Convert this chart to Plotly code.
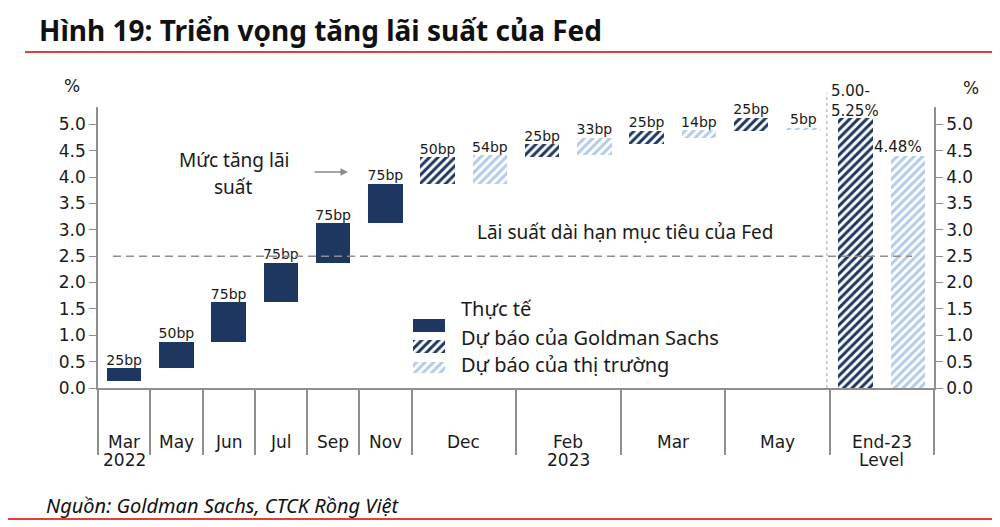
import plotly.graph_objects as go

# ---------------- data ----------------
actual_months = ["Mar", "May", "Jun", "Jul", "Sep", "Nov"]
actual_hike_bp = [25, 50, 75, 75, 75, 75]
actual_base = [0.125, 0.375, 0.875, 1.625, 2.375, 3.125]

fcst_months = ["Dec", "Feb", "Mar", "May"]
gs_hike_bp = [50, 25, 25, 25]
gs_base = [3.875, 4.375, 4.625, 4.875]
mkt_hike_bp = [54, 33, 14, 5]
mkt_base = [3.875, 4.415, 4.745, 4.885]

end23_gs_level = 5.125
end23_gs_label = "5.00-<br>5.25%"
end23_mkt_level = 4.40
end23_mkt_label = "4.48%"

fed_longrun = 2.5

cat_labels = ["Mar", "May", "Jun", "Jul", "Sep", "Nov", "Dec", "Feb", "Mar", "May", "End-23"]
cat_sublabels = ["2022", "", "", "", "", "", "", "2023", "", "", "Level"]
cat_slots = [1, 1, 1, 1, 1, 1, 2, 2, 2, 2, 2]

y_ticks = [0.0, 0.5, 1.0, 1.5, 2.0, 2.5, 3.0, 3.5, 4.0, 4.5, 5.0]

# ---------------- layout helpers ----------------
OFF = 8  # page body margin
W, H = 1000 - OFF, 527 - OFF
ML = 98 - OFF
MT = 107 - OFF
MB = H - (388 - OFF)
MR = W - (934 - OFF)
PW, PH = W - ML - MR, H - MT - MB


def px(xp):
    return (xp - OFF - ML) / PW


def py(yp):
    return (H - MB - (yp - OFF)) / PH


NAVY = "#1e3761"
LIGHT = "#b3cbe8"
GRAY = "#8f8f8f"
RED = "#e2403b"
TXT = "#1a1a1a"

# slot geometry
edges = [0]
for w in cat_slots:
    edges.append(edges[-1] + w)
centers = [(edges[i] + edges[i + 1]) / 2 for i in range(len(cat_slots))]
XU = PW / edges[-1]

n_act = len(actual_months)
act_x = centers[:n_act]
gs_x = [edges[n_act + i] + 0.5 for i in range(len(fcst_months))] + [edges[-2] + 0.5]
mk_x = [edges[n_act + i] + 1.5 for i in range(len(fcst_months))] + [edges[-2] + 1.5]

act_h = [b / 100 for b in actual_hike_bp]
gs_h = [b / 100 for b in gs_hike_bp] + [end23_gs_level]
gs_b = gs_base + [0]
mk_h = [b / 100 for b in mkt_hike_bp] + [end23_mkt_level]
mk_b = mkt_base + [0]

GS_PAT = dict(shape="/", fgcolor=NAVY, bgcolor="white", size=6, solidity=0.5,
              fillmode="replace", fgopacity=1)
MK_PAT = dict(shape="/", fgcolor=LIGHT, bgcolor="white", size=6, solidity=0.5,
              fillmode="replace", fgopacity=1)

BW = 0.66
fig = go.Figure()

fig.add_trace(go.Bar(x=act_x, y=act_h, base=actual_base, width=BW,
                     marker=dict(color=NAVY, line=dict(width=0)),
                     showlegend=False, hoverinfo="skip"))
fig.add_trace(go.Bar(x=gs_x, y=gs_h, base=gs_b, width=BW,
                     marker=dict(color="white", line=dict(width=0), pattern=GS_PAT),
                     showlegend=False, hoverinfo="skip"))
fig.add_trace(go.Bar(x=mk_x, y=mk_h, base=mk_b, width=BW,
                     marker=dict(color="white", line=dict(width=0), pattern=MK_PAT),
                     showlegend=False, hoverinfo="skip"))

# bp labels
lab_x = act_x + gs_x[:-1] + mk_x[:-1]
lab_y = ([b + h for b, h in zip(actual_base, act_h)]
         + [b + h for b, h in zip(gs_base, gs_h[:-1])]
         + [b + h for b, h in zip(mkt_base, mk_h[:-1])])
lab_t = [f"{v}bp" for v in actual_hike_bp + gs_hike_bp + mkt_hike_bp]
fig.add_trace(go.Scatter(x=lab_x, y=lab_y, text=lab_t, mode="text",
                         textposition="top center", cliponaxis=False,
                         textfont=dict(family="DejaVu Sans", size=14, color=TXT),
                         showlegend=False, hoverinfo="skip"))

# right axis dummy trace
fig.add_trace(go.Scatter(x=[None], y=[None], yaxis="y2", showlegend=False, hoverinfo="skip"))

# legend swatches on an overlay axis
leg_names = ["Thực tế", "Dự báo của Goldman Sachs", "Dự báo của thị trường"]
fig.add_trace(go.Bar(x=[1], y=[3], orientation="h", width=0.62, xaxis="x3", yaxis="y3",
                     marker=dict(color=NAVY, line=dict(width=0)), showlegend=False, hoverinfo="skip"))
fig.add_trace(go.Bar(x=[1], y=[2], orientation="h", width=0.62, xaxis="x3", yaxis="y3",
                     marker=dict(color="white", line=dict(width=0), pattern=GS_PAT),
                     showlegend=False, hoverinfo="skip"))
fig.add_trace(go.Bar(x=[1], y=[1], orientation="h", width=0.55, xaxis="x3", yaxis="y3",
                     marker=dict(color="white", line=dict(width=0), pattern=MK_PAT),
                     showlegend=False, hoverinfo="skip"))

tick_font = dict(family="DejaVu Sans", size=17, color=TXT)
yr = [0, PH / 52.75]

fig.update_layout(
    width=W, height=H,
    margin=dict(l=ML, r=MR, t=MT, b=MB, autoexpand=False),
    paper_bgcolor="white", plot_bgcolor="white",
    barmode="overlay", bargap=0,
    xaxis=dict(range=[0, edges[-1]], tickmode="array", tickvals=edges,
               showticklabels=False, ticks="outside", ticklen=65, tickwidth=1.5,
               tickcolor=GRAY, showline=True, linecolor=GRAY, linewidth=1.5,
               showgrid=False, zeroline=False, fixedrange=True),
    yaxis=dict(range=yr, tickmode="array", tickvals=y_ticks,
               ticktext=[f"{v:.1f}" for v in y_ticks], ticks="outside", ticklen=7,
               tickwidth=1.2, tickcolor=GRAY, showline=True, linecolor=GRAY, linewidth=1.5,
               showgrid=False, zeroline=False, tickfont=tick_font),
    yaxis2=dict(range=yr, overlaying="y", side="right", tickmode="array", tickvals=y_ticks,
                ticktext=[f"{v:.1f}" for v in y_ticks], ticks="outside", ticklen=7,
                tickwidth=1.2, tickcolor=GRAY, showline=True, linecolor=GRAY, linewidth=1.5,
                showgrid=False, zeroline=False, tickfont=tick_font),
    xaxis3=dict(domain=[px(413), px(445)], range=[0, 1], visible=False, anchor="y3"),
    yaxis3=dict(domain=[py(378), py(315)], range=[0.5, 3.5], visible=False, anchor="x3"),
    showlegend=False,
)

shapes = [
    # fed long-run dashed line
    dict(type="line", xref="x", yref="y", x0=(113 - 98) / XU,
         x1=(912 - 98) / XU, y0=fed_longrun, y1=fed_longrun,
         line=dict(color=GRAY, width=1.5, dash="8px,5px")),
    # vertical dotted separator
    dict(type="line", xref="x", yref="paper", x0=edges[-2] - 0.05, x1=edges[-2] - 0.05,
         y0=0, y1=py(93), line=dict(color="#a0a0a0", width=1, dash="dot")),
    # title underline
    dict(type="line", xref="paper", yref="paper", x0=px(25), x1=px(1000), y0=py(52), y1=py(52),
         line=dict(color=RED, width=2)),
    # bottom line
    dict(type="line", xref="paper", yref="paper", x0=px(8), x1=px(1000), y0=py(519), y1=py(519),
         line=dict(color=RED, width=2)),
]
fig.update_layout(shapes=shapes)

ann = []
# title
ann.append(dict(text="<b>Hình 19: Triển vọng tăng lãi suất của Fed</b>", xref="paper", yref="paper",
                x=px(37), y=py(30), xanchor="left", yanchor="middle", showarrow=False,
                font=dict(family="Noto Sans", size=28, color="#111111")))
# source
ann.append(dict(text="<i>Nguồn: Goldman Sachs, CTCK Rồng Việt</i>", xref="paper", yref="paper",
                x=px(44), y=py(505), xanchor="left", yanchor="middle", showarrow=False,
                font=dict(family="Noto Sans", size=20, color="#111111")))
# % labels
ann.append(dict(text="%", xref="paper", yref="paper", x=px(72), y=py(86), showarrow=False,
                xanchor="center", yanchor="middle", font=tick_font))
ann.append(dict(text="%", xref="paper", yref="paper", x=px(971), y=py(88), showarrow=False,
                xanchor="center", yanchor="middle", font=tick_font))
# category labels
for c, lab, sub in zip(centers, cat_labels, cat_sublabels):
    ann.append(dict(text=lab, xref="x", yref="paper", x=c, y=py(441.5), showarrow=False,
                    xanchor="center", yanchor="middle", font=tick_font))
    if sub:
        ann.append(dict(text=sub, xref="x", yref="paper", x=c, y=py(460.5), showarrow=False,
                        xanchor="center", yanchor="middle", font=tick_font))
# annotations text
note_font = dict(family="Noto Sans", size=19, color=TXT)
ann.append(dict(text="Mức tăng lãi", xref="paper", yref="paper", x=px(233.5), y=py(160),
                showarrow=False, xanchor="center", yanchor="middle", font=note_font))
ann.append(dict(text="suất", xref="paper", yref="paper", x=px(233.5), y=py(186.5),
                showarrow=False, xanchor="center", yanchor="middle", font=note_font))
ann.append(dict(text="", xref="paper", yref="paper", x=px(348), y=py(172), ax=-35, ay=0,
                showarrow=True, arrowhead=2, arrowsize=1, arrowwidth=1.5, arrowcolor="#8a8a8a"))
ann.append(dict(text="Lãi suất dài hạn mục tiêu của Fed", xref="paper", yref="paper",
                x=px(625), y=py(231.5), showarrow=False, xanchor="center", yanchor="middle",
                font=note_font))
# end-23 labels
ann.append(dict(text=end23_gs_label, xref="paper", yref="paper", x=px(829), y=py(100.5),
                showarrow=False, xanchor="left", yanchor="middle", align="left",
                font=dict(family="DejaVu Sans", size=15, color=TXT)))
ann.append(dict(text=end23_mkt_label, xref="paper", yref="paper", x=px(898), y=py(147),
                showarrow=False, xanchor="center", yanchor="middle",
                font=dict(family="DejaVu Sans", size=15, color=TXT)))
# legend texts
leg_y = [308, 337.5, 364.5]
for name, yy in zip(leg_names, leg_y):
    ann.append(dict(text=name, xref="paper", yref="paper", x=px(459), y=py(yy), showarrow=False,
                    xanchor="left", yanchor="middle",
                    font=dict(family="Noto Sans", size=20, color=TXT)))
fig.update_layout(annotations=ann)

fig.write_html("out.html")
